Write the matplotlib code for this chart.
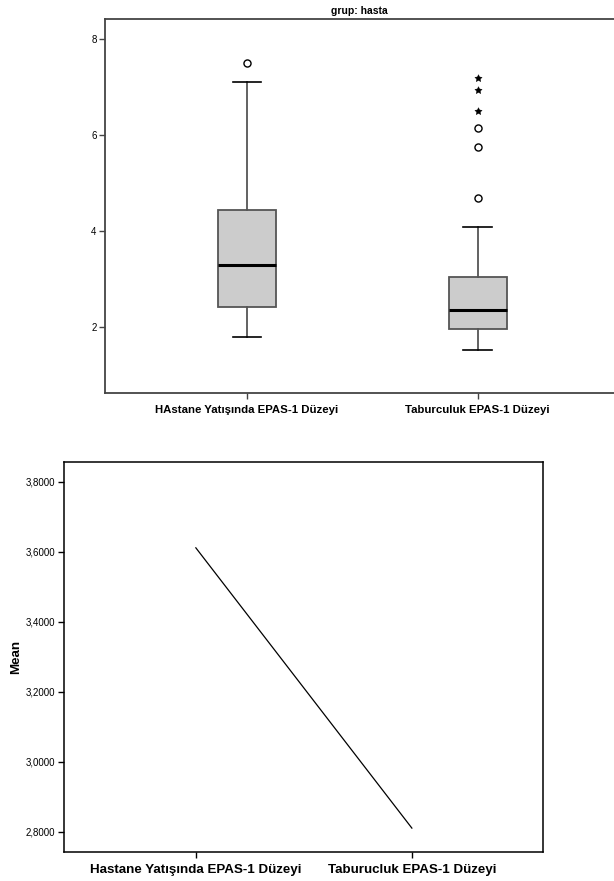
import matplotlib
matplotlib.use("Agg")
import matplotlib.pyplot as plt

plt.rcParams['font.family'] = ['Liberation Sans', 'DejaVu Sans']

# box plot data
box_labels = ['HAstane Yatışında EPAS-1 Düzeyi', 'Taburculuk EPAS-1 Düzeyi']
whisker_low = [1.79, 1.52]
q1 = [2.41, 1.96]
median = [3.30, 2.35]
q3 = [4.44, 3.04]
whisker_high = [7.11, 4.09]
outliers = [[7.51], [4.69, 5.75, 6.14]]
extremes = [[], [6.51, 6.93, 7.18]]
box_ticks = [2, 4, 6, 8]

# mean line data
mean_labels = ['Hastane Yatışında EPAS-1 Düzeyi', 'Taburucluk EPAS-1 Düzeyi']
means = [3.611, 2.811]
mean_ticks = [2.8, 3.0, 3.2, 3.4, 3.6, 3.8]

fig = plt.figure(figsize=(6.14, 8.81), dpi=100)

# top panel: boxplot
ax1 = fig.add_axes([0.171, 0.554, 0.829, 0.424])
stats = []
for i in range(len(box_labels)):
    stats.append({'whislo': whisker_low[i], 'q1': q1[i], 'med': median[i],
                  'q3': q3[i], 'whishi': whisker_high[i], 'fliers': []})
edge = '#555555'
ax1.bxp(stats, positions=[0, 1], widths=0.25, patch_artist=True, showfliers=False,
        boxprops=dict(facecolor='#cccccc', edgecolor=edge, linewidth=1.3),
        medianprops=dict(color='black', linewidth=2.2),
        whiskerprops=dict(color=edge, linewidth=1.3),
        capprops=dict(color='black', linewidth=1.2))
for i in range(len(box_labels)):
    ax1.scatter([i] * len(outliers[i]), outliers[i], s=26, facecolors='white',
                edgecolors='black', linewidths=1.0, zorder=3)
    if extremes[i]:
        ax1.scatter([i] * len(extremes[i]), extremes[i], s=30, marker=(5, 1, 0),
                    color='black', linewidths=0.3, zorder=3)
ax1.set_xlim(-0.615, 1.59)
ax1.set_ylim(0.63, 8.41)
ax1.set_yticks(box_ticks)
ax1.set_yticklabels([str(t) for t in box_ticks], fontsize=7)
ax1.set_xticks([0, 1])
ax1.set_xticklabels(box_labels, fontsize=8.2, fontweight='bold')
ax1.spines['right'].set_visible(False)
for s in ['left', 'top', 'bottom']:
    ax1.spines[s].set_color('#444444')
    ax1.spines[s].set_linewidth(1.3)
ax1.tick_params(axis='y', length=4, width=1, color='#444444', pad=2)
ax1.tick_params(axis='x', length=4, width=1, color='#444444', pad=5)
ax1.set_title('grup: hasta', fontsize=7.5, fontweight='bold', pad=4)

# bottom panel: means
ax2 = fig.add_axes([0.104, 0.033, 0.780, 0.443])
ax2.plot([0, 1], means, color='black', linewidth=0.9)
ax2.set_xlim(-0.611, 1.606)
ax2.set_ylim(2.743, 3.857)
ax2.set_yticks(mean_ticks)
ax2.set_yticklabels([f'{t:.4f}'.replace('.', ',') for t in mean_ticks], fontsize=7)
ax2.set_xticks([0, 1])
ax2.set_xticklabels(mean_labels, fontsize=9.6, fontweight='bold')
ax2.set_ylabel('Mean', fontsize=9.6, fontweight='bold', labelpad=3)
for s in ax2.spines.values():
    s.set_linewidth(1.1)
ax2.tick_params(axis='y', length=4, width=1, pad=2)
ax2.tick_params(axis='x', length=4, width=1, pad=5)

fig.savefig('out.png', dpi=100)
